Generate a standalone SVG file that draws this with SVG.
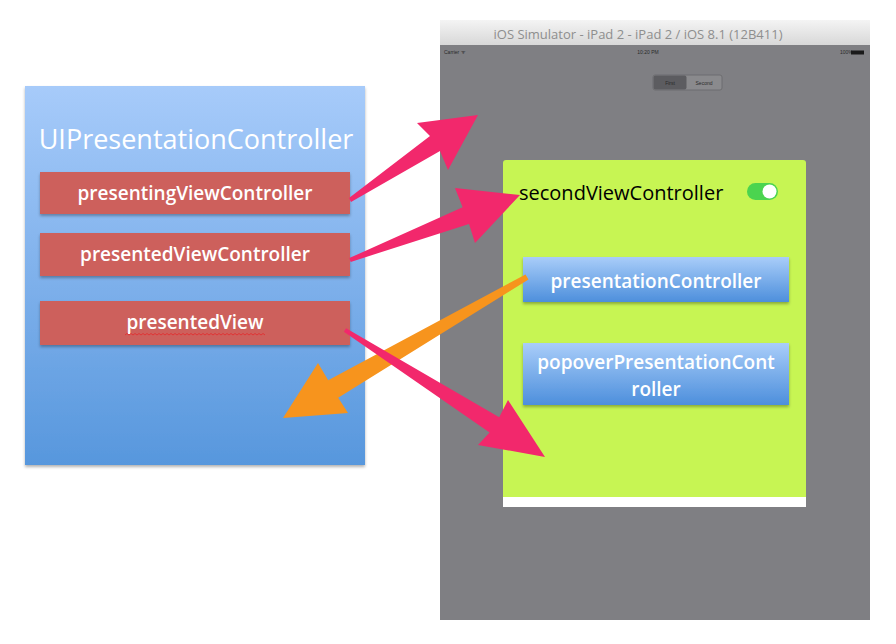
<svg xmlns="http://www.w3.org/2000/svg" width="896" height="644" viewBox="0 0 896 644">
<defs>
<linearGradient id="blueBg" x1="0" y1="0" x2="0" y2="1">
<stop offset="0" stop-color="#a7cbfa"/>
<stop offset="1" stop-color="#5797dd"/>
</linearGradient>
<linearGradient id="btn" x1="0" y1="0" x2="0" y2="1">
<stop offset="0" stop-color="#a9cdf9"/>
<stop offset="1" stop-color="#4d8fdc"/>
</linearGradient>
<linearGradient id="titlebar" x1="0" y1="0" x2="0" y2="1">
<stop offset="0" stop-color="#f4f4f4"/>
<stop offset="1" stop-color="#d8d8d8"/>
</linearGradient>
<filter id="sh" x="-10%" y="-10%" width="120%" height="130%">
<feDropShadow dx="0" dy="2" stdDeviation="1.5" flood-color="#000" flood-opacity="0.3"/>
</filter>
</defs>
<style>
.t{font-family:"Open Sans","Noto Sans","Liberation Sans",sans-serif;fill:#ffffff;text-anchor:middle}
.b{font-weight:600}
.red{fill:#cd605c}
.pink{fill:#f2286c}
.orange{fill:#f7941d}
.tiny{font-family:"Liberation Sans",sans-serif;font-size:5px;fill:#2a2a2a}
</style>
<rect width="896" height="644" fill="#ffffff"/>

<g id="uipc">
<rect x="25" y="86" width="340" height="379" fill="url(#blueBg)" filter="url(#sh)"/>
<text class="t" x="196" y="149" font-size="27">UIPresentationController</text>
</g>
<g id="presentingViewController">
<rect class="red" x="40" y="172" width="310" height="42" filter="url(#sh)"/>
<text class="t b" x="195" y="200" font-size="19">presentingViewController</text>
</g>
<g id="presentedViewController">
<rect class="red" x="40" y="233" width="310" height="43" filter="url(#sh)"/>
<text class="t b" x="195" y="261" font-size="19">presentedViewController</text>
</g>
<g id="presentedView">
<rect class="red" x="40" y="301" width="310" height="44" filter="url(#sh)"/>
<text class="t b" x="195" y="329" font-size="19">presentedView</text>
<polyline points="125,335 127,333.5 129,335 131,333.5 133,335 135,333.5 137,335 139,333.5 141,335 143,333.5 145,335 147,333.5 149,335 151,333.5 153,335 155,333.5 157,335 159,333.5 161,335 163,333.5 165,335 167,333.5 169,335 171,333.5 173,335 175,333.5 177,335 179,333.5 181,335 183,333.5 185,335 187,333.5 189,335 191,333.5 193,335 195,333.5 197,335 199,333.5 201,335 203,333.5 205,335 207,333.5 209,335 211,333.5 213,335 215,333.5 217,335 219,333.5 221,335 223,333.5 225,335 227,333.5 229,335 231,333.5 233,335 235,333.5 237,335 239,333.5 241,335 243,333.5 245,335 247,333.5 249,335 251,333.5 253,335 255,333.5 257,335 259,333.5 261,335 263,333.5 265,335" fill="none" stroke="#e03434" stroke-width="1"/>
</g>

<g id="simulator">
<rect x="440" y="20" width="430" height="600" fill="#7f7f83"/>
<rect x="440" y="20" width="430" height="25" fill="url(#titlebar)"/>
<text x="638" y="39" font-family="Open Sans, Liberation Sans, sans-serif" font-size="13" fill="#8e8e8e" text-anchor="middle">iOS Simulator - iPad 2 - iPad 2 / iOS 8.1 (12B411)</text>
<text class="tiny" x="444" y="54">Carrier ᯤ</text>
<text class="tiny" x="648" y="54" text-anchor="middle">10:20 PM</text>
<text class="tiny" x="840" y="54">100%</text>
<rect x="851" y="50.5" width="13" height="4" fill="#1a1a1a"/>
<rect x="653" y="75" width="69" height="15" rx="2" fill="#8a8a8d" stroke="#6d6d70" stroke-width="1"/>
<rect x="653.5" y="75.5" width="33" height="14" rx="2" fill="#5c5c60"/>
<text class="tiny" x="670" y="84.5" text-anchor="middle" fill="#777">First</text>
<text class="tiny" x="704" y="84.5" text-anchor="middle" fill="#6a6a6d">Second</text>
</g>

<g id="secondViewController">
<rect x="503" y="160" width="303" height="347" rx="3" fill="#c7f553"/>
<rect x="503" y="497" width="303" height="10" fill="#ffffff"/>
<text x="519" y="200" font-family="Open Sans, Noto Sans, Liberation Sans, sans-serif" font-size="20" fill="#000000">secondViewController</text>
<rect x="747" y="183" width="31" height="17" rx="8.5" fill="#4bd44f"/>
<circle cx="769.5" cy="191.5" r="7" fill="#ffffff"/>
</g>
<g id="presentationController">
<rect x="523" y="257" width="266" height="45" fill="url(#btn)" filter="url(#sh)"/>
<text class="t b" x="656" y="288" font-size="19">presentationController</text>
</g>
<g id="popoverPresentationController">
<rect x="523" y="343" width="266" height="62" fill="url(#btn)" filter="url(#sh)"/>
<text class="t b" x="656" y="369" font-size="19">popoverPresentationCont</text>
<text class="t b" x="656" y="396" font-size="19">roller</text>
</g>

<g id="connectors">
<polygon class="pink" points="349,198 430,136 417,123 478,115 448,170 440,151 351,202"/>
<polygon class="pink" points="349.3,258.1 462.6,207.3 455,188 520,195 475,243 469,224.1 350.7,261.9"/>
<polygon class="orange" points="525.5,274.4 328.2,380.3 318,363 283,418 348,413 338.2,397.7 528.5,279.6"/>
<polygon class="pink" points="346.1,328.3 499.2,417.2 508,400 545,457 478,445 489.6,432.4 343.9,331.7"/>
</g>
</svg>
